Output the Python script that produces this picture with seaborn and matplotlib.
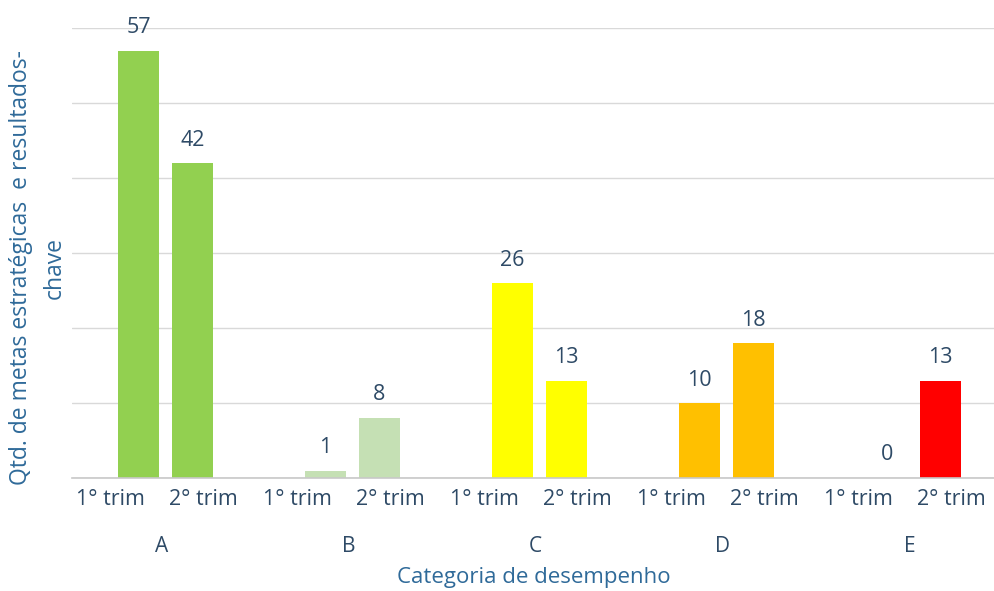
import matplotlib
matplotlib.use("Agg")
import matplotlib.pyplot as plt
import seaborn as sns
import pandas as pd

categories = ["A", "B", "C", "D", "E"]
periods = ["1º trim", "2º trim"]
values_1 = [57, 1, 26, 10, 0]
values_2 = [42, 8, 13, 18, 13]
colors_1 = ["#92D050", "#C5E0B4", "#FFFF00", "#FFC000", "#FF0000"]
colors_2 = ["#92D050", "#C5E0B4", "#FFFF00", "#FFC000", "#FF0000"]
tick_label = "1° trim", "2° trim"
y_label = "Qtd. de metas estratégicas  e resultados-\nchave"
x_label = "Categoria de desempenho"

df = pd.DataFrame({
    "cat": categories * 2,
    "period": [periods[0]] * 5 + [periods[1]] * 5,
    "val": values_1 + values_2,
})

sns.set_theme(style="white")
plt.rcParams["font.family"] = ["Open Sans", "DejaVu Sans"]

fig = plt.figure(figsize=(9.95, 5.91), dpi=100)
ax = fig.add_axes([72 / 995, 1 - 478 / 591, 1 - 72 / 995, (478 - 28) / 591])

sns.barplot(data=df, x="cat", y="val", hue="period", order=categories,
            hue_order=periods, width=0.575, gap=0.24, ax=ax, legend=False,
            saturation=1)

text_color = "#2E4A66"
bars = [p for p in ax.patches]
for i, p in enumerate(bars[:5]):
    p.set_facecolor(colors_1[i]); p.set_edgecolor("none")
for i, p in enumerate(bars[5:10]):
    p.set_facecolor(colors_2[i]); p.set_edgecolor("none")

for i, p in enumerate(bars[:10]):
    v = p.get_height()
    ax.annotate(f"{int(v)}", (p.get_x() + p.get_width() / 2, v),
                xytext=(0, 9), textcoords="offset points", ha="center",
                va="bottom", fontsize=15.5, color=text_color)

ax.set_ylim(0, 60)
ax.set_xlim(-0.5, 4.436)
ax.set_yticks(range(0, 61, 10))
ax.set_yticklabels([])
ax.grid(axis="y", color="#D9D9D9", linewidth=1)
ax.set_axisbelow(True)
for s in ["left", "right", "top"]:
    ax.spines[s].set_visible(False)
ax.spines["bottom"].set_color("#C8C8C8")
ax.spines["bottom"].set_linewidth(1.2)

pos, labs = [], []
for i in range(len(categories)):
    pos += [i - 0.295, i + 0.205]
    labs += list(tick_label)
ax.set_xticks(pos)
ax.set_xticklabels(labs, fontsize=15.5, color=text_color)
ax.tick_params(axis="x", length=0, pad=8)
ax.tick_params(axis="y", length=0)
ax.set_xlabel("")
ax.set_ylabel("")

for i, c in enumerate(categories):
    ax.text(i - 0.02, -0.152, c, transform=ax.get_xaxis_transform(),
            ha="center", va="center", fontsize=15, color=text_color)

fig.text((72 + 995) / 2 / 995, 1 - 577 / 591, x_label, ha="center",
         va="center", fontsize=16, color="#2F6A99")
fig.text(38 / 995, 1 - 268 / 591, y_label, rotation=90, ha="center",
         va="center", fontsize=16.5, color="#2F6A99", multialignment="center",
         linespacing=1.55)

fig.savefig("out.png", dpi=100)
